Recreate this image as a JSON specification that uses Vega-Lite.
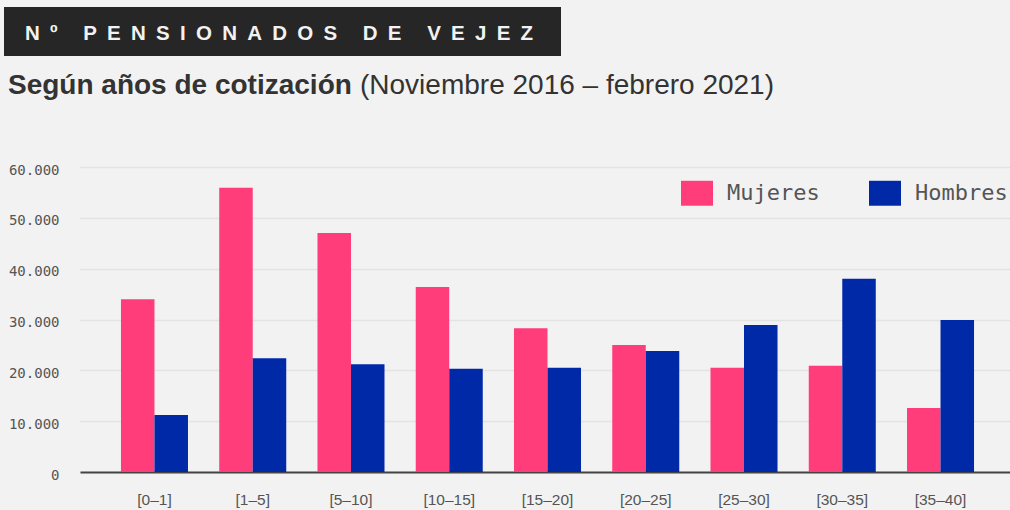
{
  "$schema": "https://vega.github.io/schema/vega-lite/v6.json",
  "width": 935,
  "height": 305,
  "autosize": {"type": "none"},
  "padding": {"left": 80, "top": 167, "right": 0, "bottom": 38},
  "background": "#f2f2f2",
  "config": {"view": {"stroke": null}},
  "layer": [
    {
      "data": {"values": [{}]},
      "mark": {"type": "rect", "x": -76, "x2": 481, "y": -160, "y2": -111, "color": "#262626"},
      "encoding": {}
    },
    {
      "data": {"values": [{}]},
      "mark": {"type": "text", "x": -55, "y": -127, "align": "left", "baseline": "alphabetic", "font": "Liberation Sans", "fontSize": 20.5, "fontWeight": "bold", "color": "#f2f2f2",
        "text": "N\u2002º\u2002\u2002\u2005P\u2002E\u2002N\u2002S\u2002I\u2002O\u2002N\u2002A\u2002D\u2002O\u2002S\u2002\u2002\u2005D\u2002E\u2002\u2002\u2005V\u2002E\u2002J\u2002E\u2002Z"},
      "encoding": {}
    },
    {
      "data": {"values": [{}]},
      "mark": {"type": "text", "x": -72, "y": -73, "align": "left", "baseline": "alphabetic", "font": "Liberation Sans", "fontSize": 28, "fontWeight": "bold", "color": "#333333", "text": "Según años de cotización"},
      "encoding": {}
    },
    {
      "data": {"values": [{}]},
      "mark": {"type": "text", "x": 280, "y": -73, "align": "left", "baseline": "alphabetic", "font": "Liberation Sans", "fontSize": 28, "fontWeight": "normal", "color": "#333333", "text": "(Noviembre 2016 – febrero 2021)"},
      "encoding": {}
    },
    {
      "data": {
        "values": [
          {"tramo": "[0–1]", "sexo": "Mujeres", "n": 34000},
          {"tramo": "[0–1]", "sexo": "Hombres", "n": 11200},
          {"tramo": "[1–5]", "sexo": "Mujeres", "n": 55900},
          {"tramo": "[1–5]", "sexo": "Hombres", "n": 22400},
          {"tramo": "[5–10]", "sexo": "Mujeres", "n": 47000},
          {"tramo": "[5–10]", "sexo": "Hombres", "n": 21200},
          {"tramo": "[10–15]", "sexo": "Mujeres", "n": 36400},
          {"tramo": "[10–15]", "sexo": "Hombres", "n": 20300},
          {"tramo": "[15–20]", "sexo": "Mujeres", "n": 28300},
          {"tramo": "[15–20]", "sexo": "Hombres", "n": 20500},
          {"tramo": "[20–25]", "sexo": "Mujeres", "n": 25000},
          {"tramo": "[20–25]", "sexo": "Hombres", "n": 23800},
          {"tramo": "[25–30]", "sexo": "Mujeres", "n": 20500},
          {"tramo": "[25–30]", "sexo": "Hombres", "n": 28900},
          {"tramo": "[30–35]", "sexo": "Mujeres", "n": 20900},
          {"tramo": "[30–35]", "sexo": "Hombres", "n": 38000},
          {"tramo": "[35–40]", "sexo": "Mujeres", "n": 12600},
          {"tramo": "[35–40]", "sexo": "Hombres", "n": 29900}
        ]
      },
      "mark": {"type": "bar"},
      "encoding": {
        "x": {
          "field": "tramo", "type": "nominal", "sort": null,
          "scale": {"paddingInner": 0.318, "paddingOuter": 0.417},
          "axis": {"title": null, "labelAngle": 0, "ticks": false, "domain": true, "domainColor": "#444444", "domainWidth": 2,
            "labelFont": "Liberation Sans", "labelFontSize": 15.5, "labelColor": "#555555", "labelPadding": 20, "grid": false}
        },
        "y": {
          "field": "n", "type": "quantitative",
          "scale": {"domain": [0, 60000], "nice": false},
          "axis": {"title": null, "values": [0, 10000, 20000, 30000, 40000, 50000, 60000], "domain": false, "ticks": false,
            "labelExpr": "replace(format(datum.value, ','), ',', '.')",
            "labelFont": "DejaVu Sans Mono", "labelFontSize": 14, "labelColor": "#555555", "labelPadding": 21, "labelOffset": 3,
            "grid": true, "gridColor": "#d4d4d4", "gridDash": [1, 1], "gridWidth": 1.5}
        },
        "xOffset": {"field": "sexo", "sort": ["Mujeres", "Hombres"]},
        "color": {
          "field": "sexo", "type": "nominal",
          "scale": {"domain": ["Mujeres", "Hombres"], "range": ["#FF3D7A", "#0029A8"]},
          "legend": {"orient": "none", "legendX": 601, "legendY": 10, "direction": "horizontal", "title": null,
            "symbolType": "M-1,-0.78H1V0.78H-1Z", "symbolSize": 1024, "symbolStrokeWidth": 0, "symbolOpacity": 1,
            "labelFont": "DejaVu Sans Mono", "labelFontSize": 22, "labelColor": "#555555", "labelOffset": 14,
            "columnPadding": 49, "padding": 0}
        }
      }
    }
  ]
}
